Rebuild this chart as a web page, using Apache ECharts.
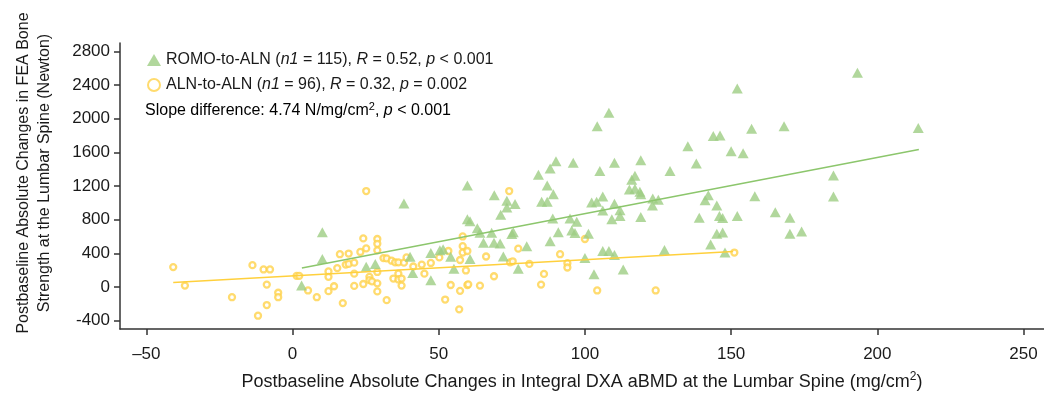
<html>
<head>
    <meta charset="utf-8">
    <title></title>
    <script src="https://cdn.jsdelivr.net/npm/echarts@6/dist/echarts.min.js" type="text/javascript"></script>
    <style>
        body { margin: 0; background: #fff; }
    </style>
</head>
<body>
    <div id="main" style="width: 1044px; height: 396px"></div>
    <script>
        var xTicks = [-50, 0, 50, 100, 150, 200, 250];
        var yTicks = [-400, 0, 400, 800, 1200, 1600, 2000, 2400, 2800];

        // ROMO-to-ALN points [aBMD change, FEA strength change]
        var romoPts = [
            [10.2, 651], [10.2, 331], [3.1, 16], [25.2, 239], [28.3, 274],
            [38.1, 993], [40.2, 358], [41.1, 166], [47.3, 404], [47.3, 81], [50.4, 435], [51.5, 447],
            [54.1, 358], [55.2, 216], [59.8, 1206], [59.8, 805], [60.7, 331],
            [69.0, 1090], [73.3, 1024], [76.1, 986], [73.3, 943], [71.2, 859], [60.7, 782], [63.2, 697],
            [64.1, 643], [68.1, 643], [75.5, 651], [75.0, 628], [65.3, 524], [68.9, 524], [71.0, 516],
            [72.1, 362], [80.1, 485], [77.2, 216], [84.1, 1333], [88.1, 1409], [90.1, 1494], [87.1, 1206],
            [89.2, 1102], [85.2, 1013], [87.1, 1013], [89.0, 813], [90.9, 651], [88.1, 543],
            [108.2, 2072], [104.2, 1910], [96.0, 1475], [110.1, 1475], [119.1, 1506], [105.1, 1379],
            [129.1, 1379], [117.1, 1321], [116.0, 1275], [115.2, 1159], [117.1, 1166], [118.8, 1132],
            [119.1, 1102], [106.1, 1074], [102.3, 1005], [104.0, 1013], [110.1, 990], [106.1, 909],
            [123.2, 1051], [125.1, 1036], [123.1, 967], [112.0, 912], [112.0, 843], [109.2, 805],
            [119.1, 831], [94.9, 813], [97.2, 774], [95.5, 670], [96.6, 640], [101.2, 632], [100.0, 343],
            [106.1, 427], [108.2, 427], [110.1, 381], [127.2, 439], [103.1, 150], [113.1, 208],
            [152.1, 2360], [157.0, 1882], [168.1, 1910], [143.9, 1794], [146.2, 1801], [135.2, 1674],
            [150.0, 1613], [154.1, 1590], [138.1, 1467], [142.2, 1090], [141.1, 1032], [158.1, 1078],
            [145.1, 967], [139.1, 824], [146.0, 843], [147.1, 820], [152.1, 843], [165.1, 889],
            [170.1, 824], [145.1, 632], [147.1, 647], [170.1, 632], [174.1, 658], [143.0, 505], [147.9, 409],
            [193.2, 2545], [214.0, 1890], [185.0, 1324], [185.0, 1074]
        ];

        // ALN-to-ALN points
        var alnPts = [
            [-40.8, 236], [-36.8, 16], [-13.7, 259], [-9.9, 208], [-7.7, 208], [-8.8, 28], [-20.7, -122],
            [-4.9, -69], [-4.9, -122], [-8.8, -215], [-11.8, -342],
            [25.2, 1140], [1.4, 132], [2.3, 132], [5.3, -42], [8.3, -122], [12.3, -50], [14.2, 8],
            [12.3, 185], [12.3, 120], [15.3, 224], [16.2, 389], [19.2, 397], [18.2, 266], [19.2, 274],
            [21.1, 289], [21.1, 158], [21.1, 12], [17.2, -192], [23.2, 416], [25.2, 458], [24.2, 577],
            [24.2, 35], [26.3, 120], [26.3, 81], [27.2, 66], [29, 570], [29, 513], [29, 435], [29, 178],
            [29, 43], [29, -53],
            [31.1, 343], [32.2, 339], [33.9, 312], [35.1, 293], [36.2, 293], [38.1, 289], [39, 351],
            [36.2, 158], [34.5, 100], [36.2, 89], [37.3, 100], [37.3, 16], [32.2, -157], [41.3, 243],
            [44.2, 266], [45.1, 158], [47.3, 285], [50.2, 351], [53.3, 427], [54.1, 23], [52.2, -150],
            [57.3, 320], [57.3, -46], [57.0, -266], [58.2, 600], [58.2, 485], [58.2, 409], [59.8, 427],
            [59.3, 196], [59.8, 23], [60.1, 31],
            [74.1, 1140], [66.2, 362], [77.2, 455], [74.4, 293], [75.3, 305], [81.0, 274], [68.9, 127],
            [64.1, 16], [86.0, 155], [85.0, 28], [91.5, 389],
            [100.0, 570], [94.0, 282], [94.0, 231], [104.2, -42], [124.2, -42], [151.1, 409]
        ];

        var romoFit = [[3.2, 224], [214.2, 1633]];
        var alnFit = [[-40.8, 54], [150.7, 420]];

        var green = '#9ecd83';
        var yellow = '#ffd24a';
        var font = 'Liberation Sans';

        var myChart = echarts.init(document.getElementById('main'));

        var txt = { fontFamily: font, fontSize: 16, color: '#1a1a1a' };
        var ital = { fontFamily: font, fontSize: 16, color: '#1a1a1a', fontStyle: 'italic' };

        var option = {
            animation: false,
            grid: { left: 120, right: 0, top: 43, bottom: 58 },
            legend: {
                orient: 'vertical',
                left: 142,
                top: 47,
                itemWidth: 14,
                itemHeight: 12,
                itemGap: 9,
                data: ['ROMO-to-ALN', 'ALN-to-ALN'],
                formatter: function (name) {
                    if (name == 'ROMO-to-ALN') {
                        return '{t|ROMO-to-ALN (}{i|n1}{t| = 115), }{i|R}{t| = 0.52, }{i|p}{t| < 0.001}';
                    }
                    return '{t|ALN-to-ALN (}{i|n1}{t| = 96), }{i|R}{t| = 0.32, }{i|p}{t| = 0.002}';
                },
                textStyle: { rich: { t: txt, i: ital } }
            },
            graphic: [
                {
                    type: 'text',
                    left: 145,
                    top: 101,
                    style: {
                        text: '{t|Slope difference: 4.74 N/mg/cm}{s|2}{t|, }{i|p}{t| < 0.001}',
                        rich: {
                            t: txt,
                            i: ital,
                            s: { fontFamily: font, fontSize: 11, color: '#1a1a1a', padding: [0, 0, 9, 0] }
                        }
                    }
                },
                {
                    type: 'text',
                    x: 34,
                    y: 173,
                    rotation: Math.PI / 2,
                    style: {
                        text: 'Postbaseline Absolute Changes in FEA Bone\nStrength at the Lumbar Spine (Newton)',
                        font: '16px "' + font + '"',
                        fill: '#1a1a1a',
                        align: 'center',
                        verticalAlign: 'middle',
                        lineHeight: 21
                    }
                }
            ],
            xAxis: {
                type: 'value',
                min: -59,
                max: 257,
                name: '{t|Postbaseline Absolute Changes in Integral DXA aBMD at the Lumbar Spine (mg/cm}{s|2}{t|)}',
                nameLocation: 'middle',
                nameGap: 42,
                nameTextStyle: {
                    rich: {
                        t: { fontFamily: font, fontSize: 18, color: '#1a1a1a' },
                        s: { fontFamily: font, fontSize: 12, color: '#1a1a1a', padding: [0, 0, 10, 0] }
                    }
                },
                splitLine: { show: false },
                axisLine: { onZero: false, lineStyle: { color: '#333', width: 1.5 } },
                axisTick: { length: 6, lineStyle: { color: '#333', width: 1.5 }, customValues: xTicks },
                axisLabel: {
                    customValues: xTicks,
                    margin: 17,
                    fontFamily: font,
                    fontSize: 17,
                    color: '#1a1a1a',
                    formatter: function (v) { return String(v).replace('-', '\u2013'); }
                }
            },
            yAxis: {
                type: 'value',
                min: -500,
                max: 2900,
                splitLine: { show: false },
                axisLine: { onZero: false, lineStyle: { color: '#333', width: 1.5 } },
                axisTick: { length: 6, lineStyle: { color: '#333', width: 1.5 }, customValues: yTicks },
                axisLabel: {
                    customValues: yTicks,
                    margin: 10,
                    fontFamily: font,
                    fontSize: 17,
                    color: '#1a1a1a',
                    formatter: function (v) { return String(v); }
                }
            },
            series: [
                {
                    name: 'ALN-to-ALN',
                    type: 'scatter',
                    symbol: 'circle',
                    symbolSize: 6,
                    itemStyle: { color: '#fff', borderColor: yellow, borderWidth: 2.3 },
                    data: alnPts
                },
                {
                    name: 'ROMO-to-ALN',
                    type: 'scatter',
                    symbol: 'triangle',
                    symbolSize: [11, 10],
                    itemStyle: { color: green },
                    data: romoPts
                },
                {
                    type: 'line',
                    symbol: 'none',
                    silent: true,
                    lineStyle: { color: '#8cc66c', width: 1.5 },
                    data: romoFit
                },
                {
                    type: 'line',
                    symbol: 'none',
                    silent: true,
                    lineStyle: { color: '#ffd03c', width: 1.5 },
                    data: alnFit
                }
            ]
        };
        myChart.setOption(option);
    </script>
</body>
</html>
